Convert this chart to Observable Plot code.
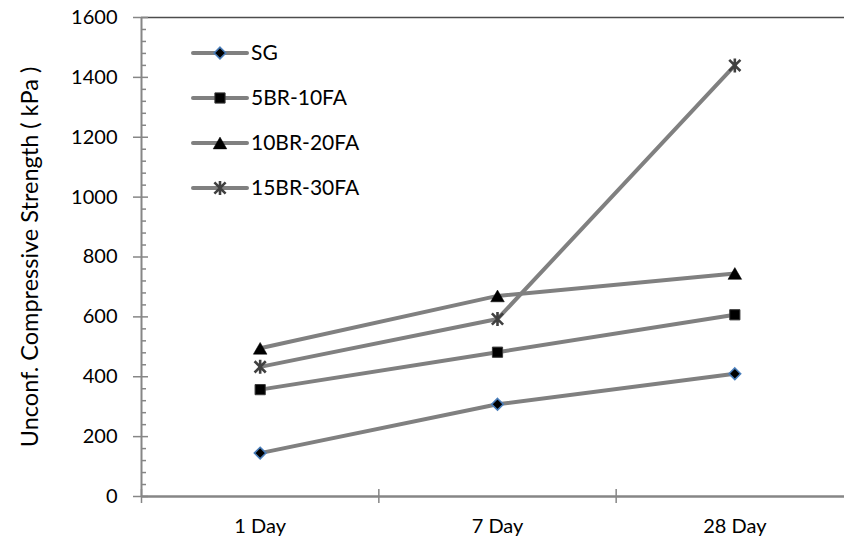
<!DOCTYPE html>
<html>
<head>
<meta charset="utf-8">
<script src="https://cdn.jsdelivr.net/npm/d3@7"></script>
<script src="https://cdn.jsdelivr.net/npm/@observablehq/plot@0.6"></script>
<style>
  html, body { margin: 0; padding: 0; background: #fff; overflow: hidden; }
  #chart { width: 844px; height: 544px; overflow: hidden; }
  #chart svg { max-width: none !important; }
</style>
</head>
<body>
<div id="chart"></div>
<script>
// ---- data ----
const days = ["1 Day", "7 Day", "28 Day"];
const seriesNames = ["SG", "5BR-10FA", "10BR-20FA", "15BR-30FA"];
const sg = [145, 308, 410];
const br5fa10 = [357, 482, 607];
const br10fa20 = [495, 670, 745];
const br15fa30 = [433, 593, 1440];
const yTicks = [0, 200, 400, 600, 800, 1000, 1200, 1400, 1600];
const yTitle = "Unconf. Compressive Strength ( kPa )";

const valuesBySeries = [sg, br5fa10, br10fa20, br15fa30];
const rows = seriesNames.flatMap((s, k) =>
  valuesBySeries[k].map((v, i) => ({series: s, i, day: days[i], value: v})));

// ---- custom Excel-like marker symbols ----
const rad = size => Math.sqrt(size / Math.PI);
const symDiamond = {draw(c, size) { const r = rad(size); c.moveTo(0, -r); c.lineTo(r, 0); c.lineTo(0, r); c.lineTo(-r, 0); c.closePath(); }};
const symSquare = {draw(c, size) { const r = rad(size); c.rect(-r, -r, 2 * r, 2 * r); }};
const symTriangle = {draw(c, size) { const r = rad(size); c.moveTo(0, -r * 0.95); c.lineTo(r * 1.1, r * 0.95); c.lineTo(-r * 1.1, r * 0.95); c.closePath(); }};
const symStar = {draw(c, size) { const r = rad(size); c.moveTo(-r, -r); c.lineTo(r, r); c.moveTo(r, -r); c.lineTo(-r, r); c.moveTo(0, -r * 1.25); c.lineTo(0, r * 1.25); }};

const markerStyle = [
  {symbol: symDiamond, r: 5.8, fill: "black", stroke: "#4a7ebb", strokeWidth: 1.6},
  {symbol: symSquare, r: 5.1, fill: "black", stroke: "#3a3a3a", strokeWidth: 1},
  {symbol: symTriangle, r: 6.2, fill: "black", stroke: "black", strokeWidth: 0.5},
  {symbol: symStar, r: 5.6, fill: "none", stroke: "#404040", strokeWidth: 2.6}
];

const lineColor = "#808080";
const axisColor = "#868686";
const font = "Lato, sans-serif";

const seriesMarks = seriesNames.flatMap((s, k) => {
  const data = rows.filter(d => d.series === s);
  const m = markerStyle[k];
  return [
    Plot.line(data, {x: d => d.i + 0.5, y: "value", stroke: lineColor, strokeWidth: 4, strokeLinecap: "round", strokeLinejoin: "round"}),
    Plot.dot(data, {x: d => d.i + 0.5, y: "value", symbol: () => m.symbol, r: m.r, fill: m.fill, stroke: m.stroke, strokeWidth: m.strokeWidth})
  ];
});

const minorTicks = d3.range(40, 1600, 40).filter(v => v % 200 !== 0);

const chart = Plot.plot({
  width: 853,
  height: 544,
  marginLeft: 141,
  marginRight: 0,
  marginTop: 17,
  marginBottom: 48,
  style: {fontFamily: font, fontSize: "20px", background: "white", overflow: "visible"},
  x: {domain: [0, 3]},
  y: {domain: [0, 1600]},
  symbol: {type: "identity"},
  marks: [
    Plot.ruleY([1600], {stroke: "#4d4d4d", strokeWidth: 1.6}),
    Plot.axisY({ticks: minorTicks, tickSize: -5, text: null, label: null, stroke: axisColor, strokeWidth: 1.5}),
    Plot.axisY({ticks: yTicks, tickSize: -7, text: null, label: null, stroke: axisColor, strokeWidth: 1.5}),
    Plot.axisY({ticks: yTicks, tickFormat: d => String(d), tickSize: 8, tickPadding: 16, stroke: axisColor, strokeWidth: 1.5, fill: "black",
      fontSize: 20, label: null}),
    Plot.text([yTitle], {text: d => d, frameAnchor: "left", textAnchor: "middle", rotate: -90, dx: -111, fontSize: 23.5, fill: "black"}),
    Plot.axisX({ticks: [0, 1, 2, 3], tickSize: 7, text: null, label: null, stroke: axisColor, strokeWidth: 1.5}),
    Plot.axisX({ticks: [0, 1, 2, 3], tickSize: -7, text: null, label: null, stroke: axisColor, strokeWidth: 1.5}),
    Plot.axisX({ticks: [0.5, 1.5, 2.5], tickFormat: v => days[Math.floor(v)], tickSize: 0, tickPadding: 22,
      fill: "black", fontSize: 20, label: null}),
    Plot.ruleX([0], {stroke: axisColor, strokeWidth: 2}),
    Plot.ruleY([0], {stroke: axisColor, strokeWidth: 2.5}),
    ...seriesMarks
  ]
});

// ---- legend (inside plot area, top-left) ----
const legend = d3.select(chart).append("g").attr("aria-label", "legend");
seriesNames.forEach((s, k) => {
  const m = markerStyle[k];
  const g = legend.append("g").attr("transform", `translate(0, ${53 + 45 * k})`);
  g.append("line").attr("x1", 193).attr("x2", 247).attr("y1", 0).attr("y2", 0)
    .attr("stroke", lineColor).attr("stroke-width", 4).attr("stroke-linecap", "round");
  g.append("path").attr("transform", "translate(220,0)")
    .attr("d", d3.symbol().type(m.symbol).size(Math.PI * m.r * m.r)())
    .attr("fill", m.fill).attr("stroke", m.stroke).attr("stroke-width", m.strokeWidth);
  g.append("text").attr("x", 251).attr("y", 0).attr("dy", "0.35em")
    .attr("text-anchor", "start")
    .attr("font-family", font).attr("font-size", 21).attr("fill", "black").text(s);
});

document.getElementById("chart").appendChild(chart);
</script>
</body>
</html>
